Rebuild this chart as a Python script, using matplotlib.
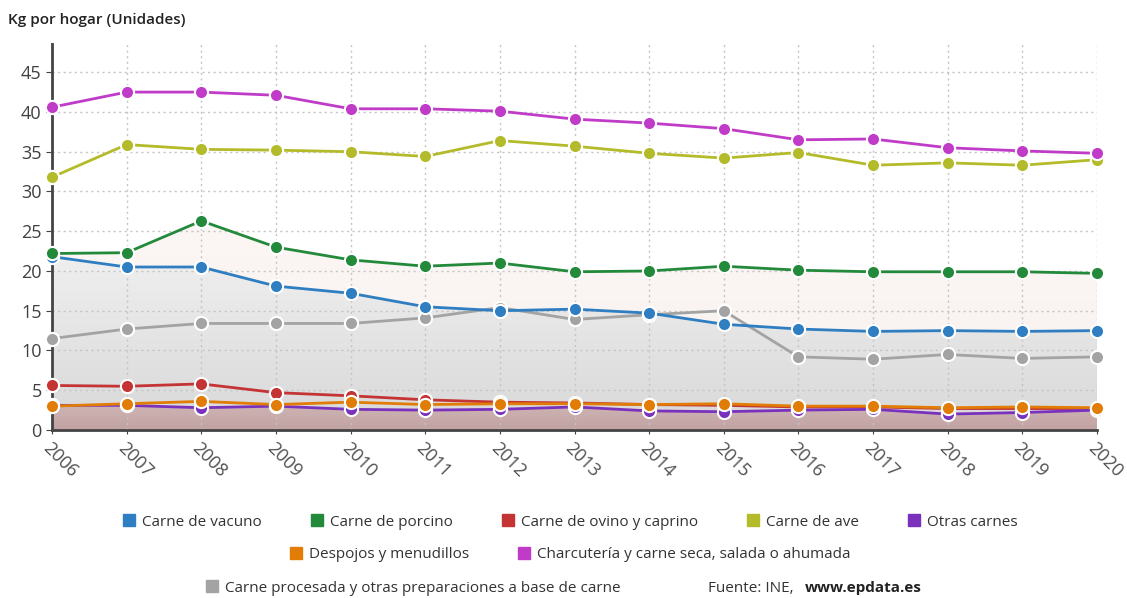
import matplotlib.pyplot as plt
from matplotlib.lines import Line2D
from matplotlib.patches import Polygon
import matplotlib.colors as mcolors
import numpy as np

plt.rcParams['font.family'] = ['Open Sans', 'DejaVu Sans']

years = list(range(2006, 2021))

vacuno = [21.8, 20.5, 20.5, 18.1, 17.2, 15.5, 15.0, 15.2, 14.7, 13.3, 12.7, 12.4, 12.5, 12.4, 12.5]
porcino = [22.2, 22.3, 26.3, 23.0, 21.4, 20.6, 21.0, 19.9, 20.0, 20.6, 20.1, 19.9, 19.9, 19.9, 19.7]
ovino = [5.6, 5.5, 5.8, 4.7, 4.3, 3.8, 3.5, 3.4, 3.2, 3.1, 2.9, 2.9, 2.7, 2.7, 2.7]
ave = [31.8, 35.9, 35.3, 35.2, 35.0, 34.4, 36.4, 35.7, 34.8, 34.2, 34.9, 33.3, 33.6, 33.3, 34.0]
otras = [3.1, 3.1, 2.8, 3.0, 2.6, 2.5, 2.6, 2.9, 2.4, 2.3, 2.5, 2.6, 2.0, 2.2, 2.5]
despojos = [3.0, 3.3, 3.6, 3.2, 3.5, 3.2, 3.3, 3.3, 3.2, 3.3, 3.0, 3.0, 2.8, 2.9, 2.8]
charcuteria = [40.6, 42.5, 42.5, 42.1, 40.4, 40.4, 40.1, 39.1, 38.6, 37.9, 36.5, 36.6, 35.5, 35.1, 34.8]
procesada = [11.5, 12.7, 13.4, 13.4, 13.4, 14.1, 15.4, 13.9, 14.5, 15.0, 9.2, 8.9, 9.5, 9.0, 9.2]

names = ['Carne de vacuno', 'Carne de porcino', 'Carne de ovino y caprino', 'Carne de ave',
         'Otras carnes', 'Despojos y menudillos', 'Charcutería y carne seca, salada o ahumada',
         'Carne procesada y otras preparaciones a base de carne']
series = [vacuno, porcino, ovino, ave, otras, despojos, charcuteria, procesada]
colors = ['#2f7ec1', '#23893b', '#c43434', '#b3bb2a', '#7a32bd', '#e17c06', '#c03cc8', '#a3a3a3']

fig = plt.figure(figsize=(11.27, 5.98), dpi=100)
ax = fig.add_axes([52 / 1127, 1 - 430 / 598, (1097 - 52) / 1127, (430 - 42) / 598])
ymax = 48.8

# soft shaded bands under the lower series
def grad_fill(yvals, top_col, bot_col, ytop, ybot=0):
    verts = [(years[0], 0)] + list(zip(years, yvals)) + [(years[-1], 0)]
    poly = Polygon(verts, closed=True, facecolor='none', edgecolor='none', transform=ax.transData)
    ax.add_patch(poly)
    t = np.linspace(0, 1, 256).reshape(-1, 1, 1)
    c0 = np.array(mcolors.to_rgb(top_col)).reshape(1, 1, 3)
    c1 = np.array(mcolors.to_rgb(bot_col)).reshape(1, 1, 3)
    img = c0 * (1 - t) + c1 * t
    im = ax.imshow(img, extent=[2006, 2020, ybot, ytop], aspect='auto', zorder=0.5,
                   origin='upper', interpolation='bilinear')
    im.set_clip_path(poly)

grad_fill(porcino, '#fcf7f5', '#f7f0ef', 27)
grad_fill(vacuno, '#efefef', '#d8d8d8', 22)
grad_fill(otras, '#cfb4b4', '#c2a2a3', 3.2)
ax.set_xlim(2006, 2020)
ax.set_ylim(0, ymax)

ax.grid(True, color='#c4c4c4', linestyle=(0, (1.5, 2.5)), linewidth=1)
ax.set_axisbelow(True)
for s in ['top', 'right']:
    ax.spines[s].set_visible(False)
for s in ['left', 'bottom']:
    ax.spines[s].set_linestyle((0, (1, 1)))
    ax.spines[s].set_linewidth(2)
    ax.spines[s].set_color('#444444')

ax.set_yticks(range(0, 50, 5))
ax.set_xticks(years)
ax.tick_params(axis='y', labelsize=13, labelcolor='#404040', length=4, color='#444444')
ax.tick_params(axis='x', labelsize=13, labelcolor='#505050', length=3, color='#444444')
for lab in ax.get_xticklabels():
    lab.set_rotation(-45)
    lab.set_ha('left')
    lab.set_va('top')
    lab.set_rotation_mode('anchor')

order = [7, 0, 1, 3, 6, 2, 4, 5]
for i in order:
    ax.plot(years, series[i], color=colors[i], linewidth=2, marker='o', markersize=9.5,
            markeredgecolor='white', markeredgewidth=1.5, clip_on=False, zorder=3)

fig.text(8 / 1127, 1 - 20 / 598, 'Kg por hogar (Unidades)', fontsize=11, fontweight='semibold',
         color='#222222', va='center', ha='left')

def handle(c):
    return Line2D([], [], linestyle='none', marker='s', markersize=9, color=c)

rows = [[0, 1, 2, 3, 4], [5, 6]]
ypos = [522, 555]
for r, yp in zip(rows, ypos):
    fig.legend([handle(colors[i]) for i in r], [names[i] for i in r], loc='center',
               bbox_to_anchor=(0.506, 1 - yp / 598), ncol=len(r), frameon=False, fontsize=11,
               handlelength=0.8, handletextpad=0.45, columnspacing=3.2, labelcolor='#333333')

fig.legend([handle(colors[7])], [names[7]], loc='center left',
           bbox_to_anchor=(200 / 1127, 1 - 588 / 598), frameon=False, fontsize=11,
           handlelength=0.8, handletextpad=0.45, labelcolor='#333333', borderaxespad=0)
fig.text(708 / 1127, 1 - 588 / 598, 'Fuente: INE,', fontsize=11, color='#333333',
         va='center', ha='left')
fig.text(805 / 1127, 1 - 588 / 598, 'www.epdata.es', fontsize=11, color='#222222',
         fontweight='bold', va='center', ha='left')

fig.savefig('out.png', dpi=100)
